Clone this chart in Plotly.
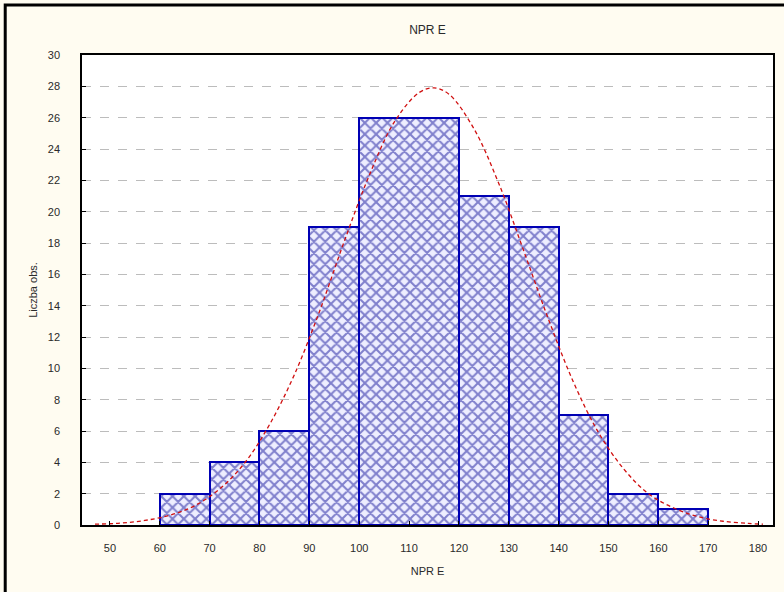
import plotly.graph_objects as go

# Histogram bins (lower / upper edge) and counts
bin_lo = [60, 70, 80, 90, 100, 120, 130, 140, 150, 160]
bin_hi = [70, 80, 90, 100, 120, 130, 140, 150, 160, 170]
counts = [2, 4, 6, 19, 26, 21, 19, 7, 2, 1]

# Expected normal curve, sampled along the value axis
curve_x = [47, 52, 57, 62, 67, 72, 77, 82, 87, 92, 97, 102, 107, 112, 115,
           118, 123, 128, 133, 138, 143, 148, 153, 158, 163, 168, 173, 178, 181]
curve_y = [0.05, 0.12, 0.29, 0.62, 1.23, 2.3, 3.95, 6.4, 9.6, 13.6, 18.1, 22.3,
           25.7, 27.6, 27.9, 27.5, 25.3, 21.8, 17.5, 13.1, 9.1, 5.9, 3.6, 2.0,
           1.1, 0.53, 0.24, 0.1, 0.05]

x_ticks = list(range(50, 181, 10))
y_ticks = list(range(0, 31, 2))

centers = [(a + b) / 2 for a, b in zip(bin_lo, bin_hi)]
widths = [b - a for a, b in zip(bin_lo, bin_hi)]

fig = go.Figure()
fig.add_trace(go.Bar(
    x=centers, y=counts, width=widths,
    marker=dict(
        color="#eeeeff",
        line=dict(color="#0000b4", width=2),
        pattern=dict(shape="x", fgcolor="#12129a", bgcolor="#eeeeff",
                     size=8, solidity=0.45),
    ),
    hoverinfo="x+y", showlegend=False,
))
fig.add_trace(go.Scatter(
    x=curve_x, y=curve_y, mode="lines", line_shape="spline",
    line=dict(color="#d01010", width=1.3, dash="4px,3px"),
    showlegend=False,
))

L, R, T, B = 82, 9, 55, 67
W, H = 784, 592
pw, ph = W - L - R, H - T - B

def px_x(p):
    return (p - L) / pw

def px_y(p):
    return (H - B - p) / ph

fig.update_layout(
    width=W, height=H,
    margin=dict(l=L, r=R, t=T, b=B),
    paper_bgcolor="#fffcf1",
    plot_bgcolor="#ffffff",
    font=dict(family="Liberation Sans, Arial, sans-serif", size=11, color="#2a2a2a"),
    title=dict(text="NPR E", x=0.5, xref="paper", xanchor="center",
               y=1 - 30 / H, yanchor="middle",
               font=dict(size=12, color="#2a2a2a")),
    bargap=0,
    shapes=[
        # outer frame of the graph window
        dict(type="rect", xref="paper", yref="paper",
             x0=px_x(5), x1=px_x(795), y0=px_y(600), y1=px_y(5),
             line=dict(color="#000000", width=3), layer="below"),
    ],
)
fig.update_xaxes(
    range=[44.4, 183], tickmode="array", tickvals=x_ticks,
    ticks="inside", ticklen=4, tickcolor="#000000",
    ticklabelstandoff=12,
    showline=True, linecolor="#000000", linewidth=1.5, mirror=True,
    showgrid=False, zeroline=False,
    title=dict(text="NPR E", standoff=14, font=dict(size=11, color="#2a2a2a")),
)
fig.update_yaxes(
    range=[0, 30], tickmode="array", tickvals=y_ticks,
    ticks="inside", ticklen=4, tickcolor="#000000",
    ticklabelstandoff=18,
    showline=True, linecolor="#000000", linewidth=1.5, mirror=True,
    showgrid=True, gridcolor="#bcbcbc", griddash="dash", gridwidth=1,
    zeroline=False,
    title=dict(text="Liczba obs.", standoff=8, font=dict(size=11, color="#2a2a2a")),
)

fig.write_html("out.html")
